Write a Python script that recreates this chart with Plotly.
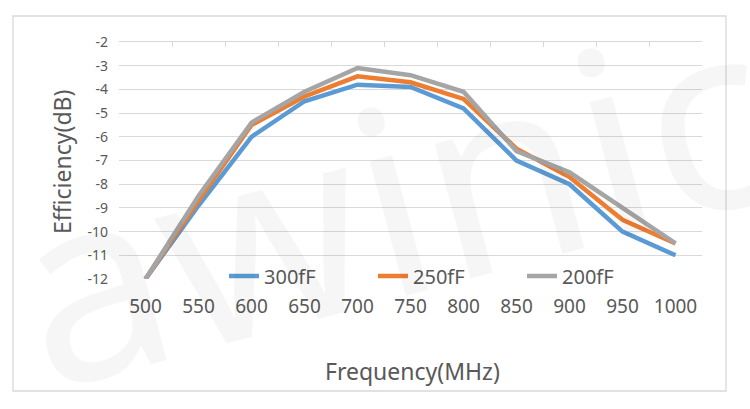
import plotly.graph_objects as go

# frequency points (MHz)
freq = [500, 550, 600, 650, 700, 750, 800, 850, 900, 950, 1000]

# efficiency (dB) per capacitance
eff_300ff = [-12, -8.9, -6.0, -4.5, -3.8, -3.9, -4.8, -7.0, -8.0, -10.0, -11.0]
eff_250ff = [-12, -8.7, -5.5, -4.3, -3.45, -3.7, -4.4, -6.5, -7.7, -9.5, -10.5]
eff_200ff = [-12, -8.5, -5.4, -4.1, -3.1, -3.4, -4.1, -6.6, -7.5, -9.0, -10.5]

series_names = ["300fF", "250fF", "200fF"]
series_colors = ["#5B9BD5", "#ED7D31", "#A5A5A5"]

y_ticks = [-12, -11, -10, -9, -8, -7, -6, -5, -4, -3, -2]

FONT = "Noto Sans"
TEXT_COLOR = "#595959"
GRID = "#d9d9d9"

W, H = 750, 409
L, R, T, B = 119, 48, 42, 130
pw, ph = W - L - R, H - T - B


def px_x(v):
    return (v - L) / pw


def px_y(v):
    return (H - B - v) / ph


fig = go.Figure()

for name, vals, col in zip(series_names, [eff_300ff, eff_250ff, eff_200ff], series_colors):
    fig.add_trace(go.Scatter(
        x=freq, y=vals, name=name, mode="lines",
        line=dict(color=col, width=4.5),
    ))

# category-style boundaries for the top axis tick marks
step = freq[1] - freq[0]
edges = [freq[0] - step / 2 + i * step for i in range(len(freq) + 1)]

fig.update_layout(
    width=W, height=H,
    margin=dict(l=L, r=R, t=T, b=B),
    paper_bgcolor="white", plot_bgcolor="white",
    font=dict(family=FONT, color=TEXT_COLOR),
    xaxis=dict(
        range=[edges[0], edges[-1]], tickvals=freq,
        showgrid=False, zeroline=False, showline=False,
        ticks="", ticklabelstandoff=14,
        tickfont=dict(size=19, color=TEXT_COLOR),
    ),
    xaxis2=dict(
        overlaying="x", matches="x", side="top", anchor="y",
        range=[edges[0], edges[-1]], tickvals=edges,
        showgrid=False, zeroline=False, showline=True, linecolor=GRID, linewidth=1.3,
        ticks="inside", ticklen=5, tickcolor=GRID, tickwidth=1.3,
        showticklabels=False,
    ),
    yaxis=dict(
        range=[-12, -2], tickvals=y_ticks, ticktext=[str(v) for v in y_ticks],
        showgrid=True, gridcolor=GRID, gridwidth=1.3,
        zeroline=False, showline=False, ticks="", ticklabelstandoff=10,
        tickfont=dict(size=14, color=TEXT_COLOR),
    ),
    legend=dict(
        orientation="h", x=px_x(224), y=px_y(276), xanchor="left", yanchor="middle",
        bgcolor="rgba(0,0,0,0)", font=dict(size=20, color=TEXT_COLOR),
        entrywidth=104, entrywidthmode="pixels",
    ),
    shapes=[dict(
        type="rect", xref="paper", yref="paper",
        x0=px_x(13), x1=px_x(726), y0=px_y(391), y1=px_y(16),
        line=dict(color=GRID, width=1.3), layer="below",
    )],
    annotations=[
        dict(text="Efficiency(dB)", xref="paper", yref="paper",
             x=px_x(62), y=px_y(162), xanchor="center", yanchor="middle",
             textangle=-90, showarrow=False,
             font=dict(size=23, color=TEXT_COLOR)),
        dict(text="Frequency(MHz)", xref="paper", yref="paper",
             x=px_x(412), y=px_y(371), xanchor="center", yanchor="middle",
             showarrow=False, font=dict(size=23, color=TEXT_COLOR)),
        dict(text="awinic", xref="paper", yref="paper",
             x=px_x(392), y=px_y(195), xanchor="center", yanchor="middle",
             textangle=-15, showarrow=False,
             font=dict(size=260, color="rgba(0,0,0,0.035)", family=FONT)),
    ],
)

# dummy trace so the top axis (tick marks only) is drawn
fig.add_trace(go.Scatter(x=[freq[0]], y=[-12], xaxis="x2", mode="markers",
                         marker=dict(opacity=0), showlegend=False, hoverinfo="skip"))

fig.write_html("out.html", config={"displayModeBar": False},
               post_script="document.body.style.margin='0';")
